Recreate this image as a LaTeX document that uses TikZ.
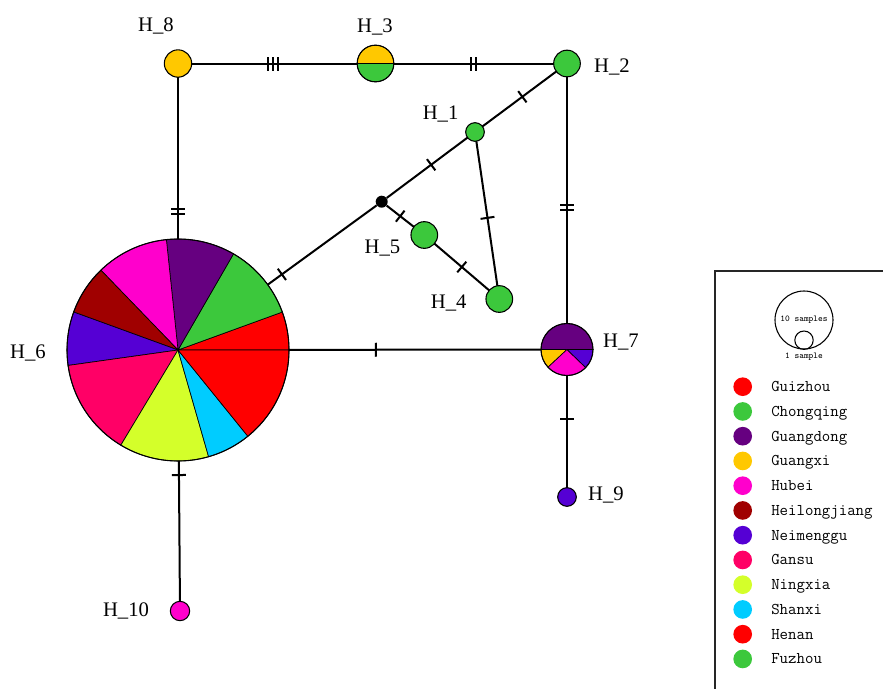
\documentclass[tikz,border=0pt]{standalone}
\usepackage{fontspec}
\setmainfont{Liberation Serif}
\usetikzlibrary{positioning}
\definecolor{guizhou}{HTML}{FF0000}
\definecolor{chongqing}{HTML}{3CC83C}
\definecolor{guangdong}{HTML}{660080}
\definecolor{guangxi}{HTML}{FFC800}
\definecolor{hubei}{HTML}{FF00CC}
\definecolor{heilongjiang}{HTML}{A00000}
\definecolor{neimenggu}{HTML}{5500D4}
\definecolor{gansu}{HTML}{FF0066}
\definecolor{ningxia}{HTML}{D4FF2A}
\definecolor{shanxi}{HTML}{00CCFF}
\definecolor{henan}{HTML}{FF0000}
\definecolor{fuzhou}{HTML}{3CC83C}
\newcommand{\mutbar}{\rule[-5.25pt]{1.5pt}{10.5pt}}
\newcommand{\mutgap}{\kern2.2pt}
\tikzset{
  font=\fontsize{15.5}{18}\selectfont,
  %
  hap/.style={circle, draw=black, line width=0.8pt, inner sep=0pt, outer sep=0pt},
  vertex/.style={circle, fill=black, inner sep=0pt, minimum size=9pt},
  slice/.style={draw=black, line width=0.5pt},
  %
  link/.style={draw=black, line width=1.5pt},
  mut/.style={sloped, inner sep=0pt, outer sep=0pt},
  hlabel/.style={anchor=base, inner sep=0pt},
  %
  legdot/.style={circle, inner sep=0pt, minimum size=14pt},
  legtext/.style={font=\ttfamily\fontsize{12.3}{14}\selectfont, anchor=base west, inner sep=0pt},
  legsmall/.style={font=\ttfamily\fontsize{6.7}{8}\selectfont, inner sep=0pt},
  legframe/.style={draw=black!85, line width=1.1pt},
}
\begin{document}
\begin{tikzpicture}[x=0.75pt, y=-0.75pt]
  \useasboundingbox (0,0) rectangle (883,689);

  % pie charts
  \coordinate (c6) at (178,350);
  \coordinate (c7) at (567,349.5);
  \coordinate (c3) at (375.5,63.5);
  \foreach \a/\b/\c in {0/20/henan, 20/60/chongqing, 60/96/guangdong, 96/134/hubei,
      134/160/heilongjiang, 160/188/neimenggu, 188/239/gansu, 239/286/ningxia,
      286/309/shanxi, 309/360/guizhou}
    \filldraw[slice, fill=\c] (c6) -- ++(\a:83.25pt) arc[start angle=\a, end angle=\b, radius=83.25pt] -- cycle;
  \foreach \a/\b/\c in {0/180/guangdong, 180/223/guangxi, 223/316/hubei, 316/360/neimenggu}
    \filldraw[slice, fill=\c] (c7) -- ++(\a:19.5pt) arc[start angle=\a, end angle=\b, radius=19.5pt] -- cycle;
  \foreach \a/\b/\c in {0/180/guangxi, 180/360/chongqing}
    \filldraw[slice, fill=\c] (c3) -- ++(\a:13.75pt) arc[start angle=\a, end angle=\b, radius=13.75pt] -- cycle;

  \node[hap, minimum size=166.5pt] (h6) at (c6) {};
  \node[hap, minimum size=39pt] (h7) at (c7) {};
  \node[hap, minimum size=27.5pt] (h3) at (c3) {};
  \node[hap, fill=guangxi, minimum size=20.5pt] (h8) at (178,63.5) {};
  \node[hap, fill=chongqing, minimum size=20pt] (h2) at (567,63.5) {};
  \node[hap, fill=chongqing, minimum size=14pt] (h1) at (475,132) {};
  \node[vertex] (mv) at (381.7,201.7) {};
  \node[hap, fill=chongqing, minimum size=20pt] (h5) at (424.3,235) {};
  \node[hap, fill=chongqing, minimum size=20pt] (h4) at (499.3,299) {};
  \node[hap, fill=neimenggu, minimum size=14pt] (h9) at (567,497) {};
  \node[hap, fill=hubei, minimum size=14.5pt] (h10) at (180,611) {};

  % links with mutation ticks
  \draw[link] (h8) -- node[mut, pos=0.49] {\mutbar\mutgap\mutbar\mutgap\mutbar} (h3);
  \draw[link] (h3) -- node[mut, pos=0.5] {\mutbar\mutgap\mutbar} (h2);
  \draw[link] (h2) -- node[mut, pos=0.46] {\mutbar} (h1);
  \draw[link] (h1) -- node[mut, pos=0.45] {\mutbar} (mv);
  \draw[link] (mv) -- node[mut, pos=0.87] {\mutbar} (h6);
  \draw[link] (mv) -- node[mut, pos=0.5] {\mutbar} (h5);
  \draw[link] (h5) -- node[mut, pos=0.5] {\mutbar} (h4);
  \draw[link] (h1) -- node[mut, pos=0.53] {\mutbar} (h4);
  \draw[link] (h2) -- node[mut, pos=0.53] {\mutbar\mutgap\mutbar} (h7);
  \draw[link] (h8) -- node[mut, pos=0.83] {\mutbar\mutgap\mutbar} (h6);
  \draw[link] (h6) -- node[mut, pos=0.345] {\mutbar} (h7);
  \draw[link] (h7) -- node[mut, pos=0.39] {\mutbar} (h9);
  \draw[link] (h6) -- node[mut, pos=0.1] {\mutbar} (h10);

  \node[hlabel] (l8) at (156,31) {H\_8};
  \node[hlabel] (l3) at (375,32) {H\_3};
  \node[hlabel] (l2) at (612,72.3) {H\_2};
  \node[hlabel] (l1) at (440.6,119) {H\_1};
  \node[hlabel] (l5) at (382.5,253.3) {H\_5};
  \node[hlabel] (l4) at (448.7,308.3) {H\_4};
  \node[hlabel] (l6) at (28,358.3) {H\_6};
  \node[hlabel] (l7) at (621,347.3) {H\_7};
  \node[hlabel] (l9) at (606,500) {H\_9};
  \node[hlabel] (l10) at (126,616.7) {H\_10};

  % legend
  \draw[legframe] (715,689) |- (883,271);
  \node[hap, minimum size=43.5pt] (big) at (804,320) {};
  \node[hap, minimum size=13.8pt] (small) at (804,340.2) {};
  \node[legsmall] (bigtxt) at (big) {10 samples};
  \node[legsmall] (smalltxt) at (804,357) {1 sample};
  \foreach \c/\n [count=\i from 0] in {guizhou/Guizhou, chongqing/Chongqing,
      guangdong/Guangdong, guangxi/Guangxi, hubei/Hubei, heilongjiang/Heilongjiang,
      neimenggu/Neimenggu, gansu/Gansu, ningxia/Ningxia, shanxi/Shanxi,
      henan/Henan, fuzhou/Fuzhou} {
    \node[legdot, fill=\c] (dot\i) at (742.7,{386.7+24.75*\i}) {};
    \node[legtext] (name\i) at (771,{391.7+24.75*\i}) {\n};
  }

\end{tikzpicture}
\end{document}
